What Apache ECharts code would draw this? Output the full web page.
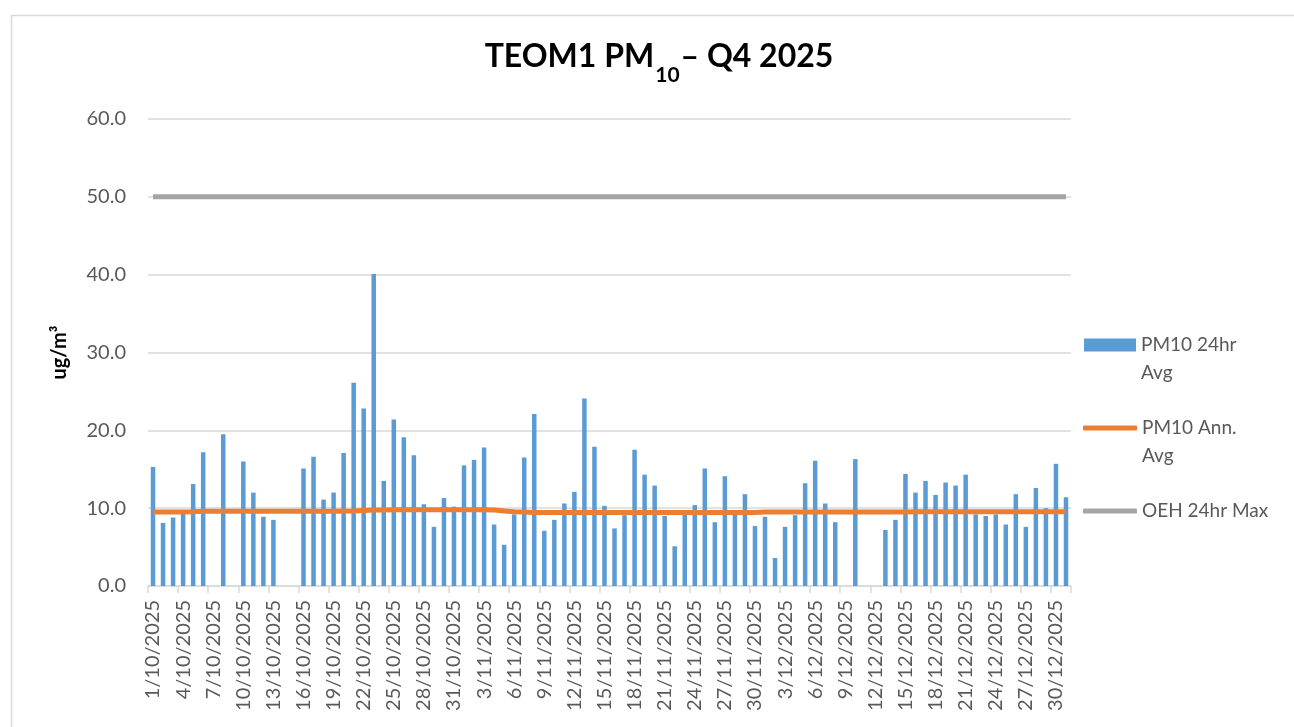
<!DOCTYPE html>
<html>
<head>
<meta charset="utf-8">
<script src="https://cdn.jsdelivr.net/npm/echarts@6/dist/echarts.min.js"></script>
<style>
  html, body { margin: 0; padding: 0; background: #fff; }
  #box { width: 1294px; height: 727px; }
</style>
</head>
<body>
<div id="box"></div>
<script>
// days in each month of Q4 2025
const months = [[10, 31], [11, 30], [12, 31]];
const dates = [];
months.forEach(function (m) {
    for (let d = 1; d <= m[1]; d++) dates.push(d + '/' + m[0] + '/2025');
});

// PM10 24hr average (ug/m3), gaps = no data
const pm10Oct = [15.3, 8.1, 8.8, 9.5, 13.1, 17.2, null, 19.5, null, 16.0,
    12.0, 8.9, 8.5, null, null, 15.1, 16.6, 11.1, 12.0, 17.1,
    26.1, 22.8, 40.1, 13.5, 21.4, 19.1, 16.8, 10.5, 7.6, 11.3, 10.2];
const pm10Nov = [15.5, 16.2, 17.8, 7.9, 5.3, 9.2, 16.5, 22.1, 7.1, 8.5,
    10.6, 12.1, 24.1, 17.9, 10.3, 7.4, 9.1, 17.5, 14.3, 12.9,
    9.0, 5.1, 9.2, 10.4, 15.1, 8.2, 14.1, 9.2, 11.8, 7.7];
const pm10Dec = [8.9, 3.6, 7.6, 9.1, 13.2, 16.1, 10.6, 8.2, null, 16.3,
    null, null, 7.2, 8.5, 14.4, 12.0, 13.5, 11.7, 13.3, 12.9,
    14.3, 9.2, 9.0, 9.2, 7.9, 11.8, 7.6, 12.6, 10.0, 15.7, 11.4];
const pm10Daily = pm10Oct.concat(pm10Nov, pm10Dec);

// PM10 annual average (running)
const annOct = [9.5, 9.5, 9.5, 9.52, 9.55, 9.6, 9.6, 9.6, 9.6, 9.6,
    9.6, 9.6, 9.6, 9.6, 9.6, 9.6, 9.6, 9.6, 9.6, 9.62,
    9.65, 9.7, 9.75, 9.78, 9.8, 9.8, 9.8, 9.8, 9.8, 9.8, 9.8];
const annNov = [9.8, 9.8, 9.8, 9.75, 9.65, 9.55, 9.5, 9.45, 9.45, 9.45,
    9.45, 9.45, 9.45, 9.45, 9.45, 9.45, 9.45, 9.45, 9.45, 9.45,
    9.45, 9.45, 9.45, 9.45, 9.45, 9.45, 9.45, 9.45, 9.45, 9.45];
const annDec = [9.5, 9.5, 9.5, 9.5, 9.5, 9.5, 9.5, 9.5, 9.5, 9.5,
    9.5, 9.5, 9.5, 9.5, 9.5, 9.55, 9.55, 9.55, 9.55, 9.55,
    9.55, 9.55, 9.55, 9.55, 9.55, 9.55, 9.55, 9.55, 9.55, 9.55, 9.55];
const annAvg = annOct.concat(annNov, annDec);

// OEH 24hr max criterion
const oehMax = 50;
const oehLine = dates.map(function () { return oehMax; });

const font = 'Lato, "Open Sans", sans-serif';
const grey = '#595959';

const chart = echarts.init(document.getElementById('box'));

// legend text: blank first line so the label's first line sits on the icon
const legendText = { fontFamily: font, fontSize: 19, color: grey, lineHeight: 28 };

chart.setOption({
    animation: false,
    backgroundColor: '#fff',
    graphic: [{
        type: 'rect',
        left: 9, top: 13,
        shape: { width: 1300, height: 800 },
        style: { fill: 'none', stroke: '#d9d9d9', lineWidth: 1.5 },
        silent: true
    }],
    title: {
        text: 'TEOM1 PM{sub|10}– Q4 2025',
        left: 654,
        top: 36,
        textAlign: 'center',
        textStyle: {
            fontFamily: font,
            fontWeight: 'bold',
            fontSize: 32,
            color: '#000',
            rich: {
                sub: {
                    fontFamily: font,
                    fontWeight: 'bold',
                    fontSize: 21,
                    color: '#000',
                    verticalAlign: 'bottom',
                    padding: [0, 1, -13, 1]
                }
            }
        }
    },
    legend: [
        {
            data: [{ name: 'PM10 24hr Avg', icon: 'rect' }],
            left: 1084, top: 303, padding: 0,
            itemWidth: 52, itemHeight: 13,
            formatter: function () { return ' \nPM10 24hr\nAvg'; },
            textStyle: legendText
        },
        {
            data: [{ name: 'PM10 Ann. Avg', icon: 'roundRect' }],
            left: 1083, top: 386, padding: 0,
            itemWidth: 54, itemHeight: 5,
            formatter: function () { return ' \nPM10 Ann.\nAvg'; },
            textStyle: legendText
        },
        {
            data: [{ name: 'OEH 24hr Max', icon: 'roundRect' }],
            left: 1083, top: 497, padding: 0,
            itemWidth: 54, itemHeight: 5,
            textStyle: legendText
        }
    ],
    grid: { left: 148, right: 223, top: 119, bottom: 141 },
    xAxis: {
        type: 'category',
        data: dates,
        axisLine: { lineStyle: { color: '#d9d9d9', width: 1.5 } },
        axisTick: { show: true, interval: 2, length: 7, lineStyle: { color: '#d9d9d9', width: 1.5 } },
        axisLabel: {
            interval: 2,
            rotate: 90,
            margin: 14,
            fontFamily: font,
            fontSize: 20,
            color: grey
        }
    },
    yAxis: {
        type: 'value',
        min: 0, max: 60, interval: 10,
        name: 'ug/m³',
        nameLocation: 'middle',
        nameRotate: 90,
        nameGap: 78,
        nameTextStyle: { fontFamily: font, fontWeight: 'bold', fontSize: 20, color: '#000' },
        axisLine: { show: false },
        axisTick: { show: false },
        axisLabel: {
            margin: 22,
            fontFamily: font,
            fontSize: 20,
            color: grey,
            formatter: function (v) { return v.toFixed(1); }
        },
        splitLine: { lineStyle: { color: '#d9d9d9', width: 1.5 } }
    },
    series: [
        {
            name: 'PM10 24hr Avg',
            type: 'bar',
            data: pm10Daily,
            barWidth: 4.5,
            itemStyle: { color: '#5b9bd5' }
        },
        {
            name: 'PM10 Ann. Avg',
            type: 'line',
            data: annAvg,
            symbol: 'none',
            itemStyle: { color: '#ed7d31' },
            lineStyle: { color: '#ed7d31', width: 5 },
            z: 3
        },
        {
            name: 'OEH 24hr Max',
            type: 'line',
            data: oehLine,
            symbol: 'none',
            itemStyle: { color: '#a5a5a5' },
            lineStyle: { color: '#a5a5a5', width: 5 },
            z: 3
        }
    ]
});
</script>
</body>
</html>
